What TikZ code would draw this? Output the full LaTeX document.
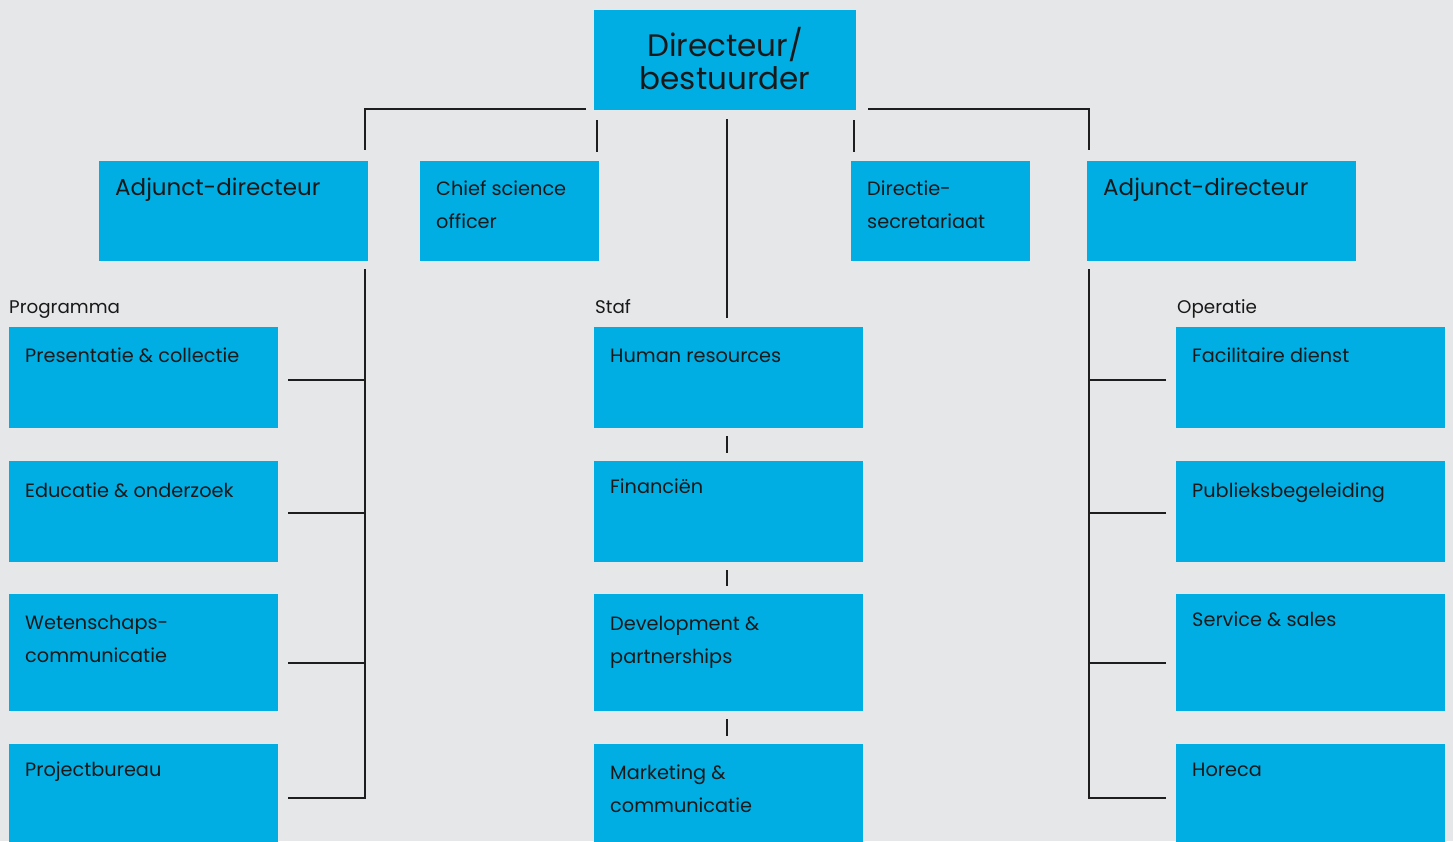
\documentclass[tikz,border=0pt]{standalone}
\usepackage{fontspec}
\setmainfont{Poppins}
\begin{document}
\begin{tikzpicture}[x=1pt,y=-1pt]
\definecolor{bgcolor}{RGB}{230,231,233}
\definecolor{unitcolor}{RGB}{0,174,228}
\definecolor{linecolor}{RGB}{30,30,30}
\newcommand{\twoline}[2]{\vtop{\baselineskip=33pt\hbox{#1}\hbox{#2}}}
\tikzstyle{unit}=[rectangle,fill=unitcolor,anchor=north west,inner sep=0pt,outer sep=0pt]
\tikzstyle{wide}=[unit,minimum width=269pt]
\tikzstyle{narrow}=[unit,minimum width=179pt,minimum height=100pt]
\tikzstyle{unittext}=[anchor=base west,inner sep=0pt,text=black!90,font=\fontsize{19.3}{33}\selectfont]
\tikzstyle{headtext}=[unittext,font=\fontsize{23}{33}\selectfont]
\tikzstyle{grouptext}=[unittext,font=\fontsize{18.3}{20}\selectfont]
\tikzstyle{link}=[draw=linecolor,line width=1.3pt]
\fill[bgcolor] (0,0) rectangle (1453,841);
\useasboundingbox (0,0) rectangle (1453,841);
% top
\node[unit,minimum width=262pt,minimum height=100pt] (dir) at (594,10) {};
\node[anchor=center,align=center,text=black!90,font=\fontsize{31}{33}\selectfont] (dir-t) at (725,59) {Directeur/\\bestuurder};
% second row
\node[wide,minimum height=100pt] (adjL) at (99,161) {};
\node[narrow] (cso) at (420,161) {};
\node[narrow] (sec) at (851,161) {};
\node[wide,minimum height=100pt] (adjR) at (1087,161) {};
\node[headtext] (adjL-t) at (115,195) {Adjunct-directeur};
\node[unittext] (cso-t) at (436,195) {\twoline{Chief science}{officer}};
\node[unittext] (sec-t) at (867,195) {\twoline{Directie-}{secretariaat}};
\node[headtext] (adjR-t) at (1103,195) {Adjunct-directeur};
% group labels
\node[grouptext] (prog) at (9,313) {Programma};
\node[grouptext] (staf) at (595,313) {Staf};
\node[grouptext] (oper) at (1177,313) {Operatie};
% programma
\node[wide,minimum height=101pt] (pc) at (9,327) {};
\node[wide,minimum height=101pt] (edu) at (9,461) {};
\node[wide,minimum height=117pt] (wet) at (9,594) {};
\node[wide,minimum height=108pt] (prj) at (9,744) {};
\node[unittext] (pc-t) at (25,362) {Presentatie \& collectie};
\node[unittext] (edu-t) at (25,497) {Educatie \& onderzoek};
\node[unittext] (wet-t) at (25,629) {\twoline{Wetenschaps-}{communicatie}};
\node[unittext] (prj-t) at (25,776) {Projectbureau};
% staf
\node[wide,minimum height=101pt] (hr) at (594,327) {};
\node[wide,minimum height=101pt] (fin) at (594,461) {};
\node[wide,minimum height=117pt] (dev) at (594,594) {};
\node[wide,minimum height=108pt] (mkt) at (594,744) {};
\node[unittext] (hr-t) at (610,362) {Human resources};
\node[unittext] (fin-t) at (610,493) {Financiën};
\node[unittext] (dev-t) at (610,630) {\twoline{Development \&}{partnerships}};
\node[unittext] (mkt-t) at (610,779) {\twoline{Marketing \&}{communicatie}};
% operatie
\node[wide,minimum height=101pt] (fac) at (1176,327) {};
\node[wide,minimum height=101pt] (pub) at (1176,461) {};
\node[wide,minimum height=117pt] (ser) at (1176,594) {};
\node[wide,minimum height=108pt] (hor) at (1176,744) {};
\node[unittext] (fac-t) at (1192,362) {Facilitaire dienst};
\node[unittext] (pub-t) at (1192,497) {Publieksbegeleiding};
\node[unittext] (ser-t) at (1192,626) {Service \& sales};
\node[unittext] (hor-t) at (1192,776) {Horeca};
% connectors from the top
\draw[link] ([xshift=-8pt,yshift=1pt]dir.south west) -| ([xshift=-3pt,yshift=11pt]adjL.north east);
\draw[link] ([xshift=12pt,yshift=1pt]dir.south east) -| ([xshift=2pt,yshift=11pt]adjR.north west);
\draw[link] ([xshift=3pt,yshift=-10pt]dir.south west) -- ([xshift=-2pt,yshift=9pt]cso.north east);
\draw[link] ([xshift=-2pt,yshift=-10pt]dir.south east) -- ([xshift=3pt,yshift=9pt]sec.north west);
\draw[link] ([xshift=2pt,yshift=-9pt]dir.south) -- ([xshift=-1.5pt,yshift=9pt]hr.north);
% staf
\draw[link] ([xshift=-1.5pt,yshift=-8pt]hr.south) -- ([xshift=-1.5pt,yshift=8pt]fin.north);
\draw[link] ([xshift=-1.5pt,yshift=-8pt]fin.south) -- ([xshift=-1.5pt,yshift=8pt]dev.north);
\draw[link] ([xshift=-1.5pt,yshift=-8pt]dev.south) -- ([xshift=-1.5pt,yshift=8pt]mkt.north);
% programma
\draw[link] ([xshift=10pt,yshift=-2.5pt]pc.east) -| ([xshift=-3pt,yshift=-8pt]adjL.south east);
\draw[link] ([xshift=10pt,yshift=-1.5pt]edu.east) -| ([xshift=-3pt,yshift=-8pt]adjL.south east);
\draw[link] ([xshift=10pt,yshift=-10.5pt]wet.east) -| ([xshift=-3pt,yshift=-8pt]adjL.south east);
\draw[link] ([xshift=10pt]prj.east) -| ([xshift=-3pt,yshift=-8pt]adjL.south east);
% operatie
\draw[link] ([xshift=-10pt,yshift=-2.5pt]fac.west) -| ([xshift=2pt,yshift=-8pt]adjR.south west);
\draw[link] ([xshift=-10pt,yshift=-1.5pt]pub.west) -| ([xshift=2pt,yshift=-8pt]adjR.south west);
\draw[link] ([xshift=-10pt,yshift=-10.5pt]ser.west) -| ([xshift=2pt,yshift=-8pt]adjR.south west);
\draw[link] ([xshift=-10pt]hor.west) -| ([xshift=2pt,yshift=-8pt]adjR.south west);
\end{tikzpicture}
\end{document}
